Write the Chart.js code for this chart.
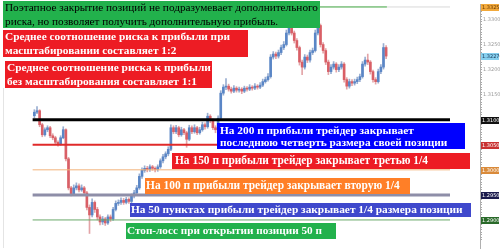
<!DOCTYPE html>
<html>
<head>
<meta charset="utf-8">
<script src="https://cdn.jsdelivr.net/npm/chart.js@4/dist/chart.umd.min.js"></script>
<style>
html,body{margin:0;padding:0;background:#fff;}
#c{display:block;}
</style>
</head>
<body>
<canvas id="c" width="500" height="252"></canvas>
<script>
// ---- data ----
const opens = [1.3108,1.3115,1.3118,1.3090,1.3070,1.3080,1.3084,1.3068,1.3064,1.3055,
1.3051,1.3064,1.3080,1.3022,1.2964,1.2952,1.2964,1.2968,1.2960,1.2964,
1.2954,1.2925,1.2910,1.2935,1.2921,1.2906,1.2896,1.2902,1.2894,1.2906,
1.2902,1.2921,1.2933,1.2935,1.2939,1.2935,1.2941,1.2937,1.2948,1.2954,
1.2964,1.2987,1.2999,1.3003,1.3001,1.3006,1.3003,1.3001,1.3006,1.3018,
1.3026,1.3032,1.3041,1.3084,1.3076,1.3084,1.3070,1.3080,1.3074,1.3061,
1.3084,1.3076,1.3084,1.3074,1.3080,1.3090,1.3086,1.3107,1.3099,1.3084,
1.3080,1.3103,1.3153,1.3165,1.3167,1.3161,1.3157,1.3163,1.3159,1.3161,
1.3157,1.3163,1.3161,1.3165,1.3163,1.3167,1.3165,1.3169,1.3176,1.3180,
1.3186,1.3225,1.3231,1.3227,1.3234,1.3244,1.3250,1.3273,1.3283,1.3273,
1.3258,1.3244,1.3215,1.3205,1.3225,1.3219,1.3234,1.3238,1.3273,1.3288,
1.3250,1.3238,1.3215,1.3196,1.3205,1.3211,1.3200,1.3205,1.3211,1.3180,
1.3167,1.3176,1.3173,1.3176,1.3180,1.3186,1.3211,1.3219,1.3215,1.3196,
1.3180,1.3176,1.3196,1.3205,1.3244];
const closes = [1.3115,1.3118,1.3090,1.3070,1.3080,1.3084,1.3068,1.3064,1.3055,1.3051,
1.3064,1.3080,1.3022,1.2964,1.2952,1.2964,1.2968,1.2960,1.2964,1.2954,
1.2925,1.2910,1.2935,1.2921,1.2906,1.2896,1.2902,1.2894,1.2906,1.2902,
1.2921,1.2933,1.2935,1.2939,1.2935,1.2941,1.2937,1.2948,1.2954,1.2964,
1.2987,1.2999,1.3003,1.3001,1.3006,1.3003,1.3001,1.3006,1.3018,1.3026,
1.3032,1.3041,1.3084,1.3076,1.3084,1.3070,1.3080,1.3074,1.3061,1.3084,
1.3076,1.3084,1.3074,1.3080,1.3090,1.3086,1.3107,1.3099,1.3084,1.3080,
1.3103,1.3153,1.3165,1.3167,1.3161,1.3157,1.3163,1.3159,1.3161,1.3157,
1.3163,1.3161,1.3165,1.3163,1.3167,1.3165,1.3169,1.3176,1.3180,1.3186,
1.3225,1.3231,1.3227,1.3234,1.3244,1.3250,1.3273,1.3283,1.3273,1.3258,
1.3244,1.3215,1.3205,1.3225,1.3219,1.3234,1.3238,1.3273,1.3288,1.3250,
1.3238,1.3215,1.3196,1.3205,1.3211,1.3200,1.3205,1.3211,1.3180,1.3167,
1.3176,1.3173,1.3176,1.3180,1.3186,1.3211,1.3219,1.3215,1.3196,1.3180,
1.3176,1.3196,1.3205,1.3244,1.3227];
const highs = [1.3120,1.3126,1.3120,1.3093,1.3084,1.3088,1.3087,1.3072,1.3067,1.3058,
1.3068,1.3086,1.3082,1.3025,1.2967,1.2970,1.2974,1.2972,1.2970,1.2967,
1.2957,1.2930,1.2942,1.2938,1.2925,1.2910,1.2907,1.2905,1.2910,1.2910,
1.2925,1.2938,1.2940,1.2944,1.2943,1.2945,1.2944,1.2952,1.2959,1.2969,
1.2992,1.3004,1.3008,1.3007,1.3010,1.3009,1.3006,1.3010,1.3022,1.3031,
1.3036,1.3046,1.3090,1.3088,1.3089,1.3087,1.3085,1.3083,1.3077,1.3089,
1.3088,1.3090,1.3087,1.3085,1.3095,1.3094,1.3113,1.3110,1.3102,1.3088,
1.3108,1.3158,1.3170,1.3182,1.3171,1.3165,1.3168,1.3166,1.3165,1.3164,
1.3167,1.3166,1.3170,1.3168,1.3172,1.3170,1.3174,1.3181,1.3185,1.3192,
1.3230,1.3236,1.3235,1.3239,1.3249,1.3256,1.3279,1.3306,1.3290,1.3277,
1.3262,1.3247,1.3219,1.3230,1.3229,1.3239,1.3243,1.3279,1.3296,1.3291,
1.3254,1.3242,1.3219,1.3210,1.3216,1.3214,1.3210,1.3216,1.3214,1.3184,
1.3181,1.3180,1.3181,1.3185,1.3191,1.3216,1.3225,1.3231,1.3218,1.3199,
1.3184,1.3201,1.3210,1.3252,1.3248];
const lows = [1.3104,1.3112,1.3086,1.3066,1.3067,1.3076,1.3064,1.3060,1.3051,1.3047,
1.3049,1.3062,1.3018,1.2960,1.2948,1.2950,1.2960,1.2956,1.2957,1.2950,
1.2920,1.2873,1.2906,1.2915,1.2900,1.2890,1.2891,1.2889,1.2891,1.2897,
1.2899,1.2918,1.2929,1.2931,1.2931,1.2932,1.2933,1.2934,1.2944,1.2950,
1.2961,1.2983,1.2995,1.2996,1.2997,1.2999,1.2996,1.2997,1.3003,1.3014,
1.3022,1.3028,1.3038,1.3072,1.3072,1.3066,1.3067,1.3070,1.3045,1.3058,
1.3072,1.3073,1.3070,1.3071,1.3077,1.3081,1.3083,1.3094,1.3080,1.3074,
1.3077,1.3100,1.3149,1.3160,1.3157,1.3153,1.3154,1.3155,1.3155,1.3152,
1.3154,1.3157,1.3158,1.3159,1.3160,1.3161,1.3162,1.3166,1.3173,1.3177,
1.3183,1.3221,1.3222,1.3223,1.3230,1.3240,1.3247,1.3269,1.3269,1.3253,
1.3239,1.3209,1.3190,1.3201,1.3214,1.3215,1.3230,1.3235,1.3269,1.3245,
1.3233,1.3210,1.3190,1.3192,1.3201,1.3195,1.3196,1.3201,1.3175,1.3161,
1.3163,1.3168,1.3169,1.3172,1.3176,1.3183,1.3207,1.3210,1.3191,1.3175,
1.3171,1.3173,1.3192,1.3201,1.3222];

// horizontal levels: entry/TP/SL lines
const levelValues = [1.3100, 1.3050, 1.3000, 1.2950, 1.2900];
const levelLabels = ['1.3100', '1.3050', '1.3000', '1.2950', '1.2900'];
const topLevel = 1.3325;
const topLabel = '1.3325';
const currentPrice = 1.3227;
const currentLabel = '1.32270';
const axisTicks = [1.3150, 1.3200, 1.3250, 1.3300];

// annotation texts
const noteTop = ['Поэтапное закрытие позиций не подразумевает дополнительного', 'риска, но позволяет получить дополнительную прибыль.'];
const noteScale = ['Среднее соотношение риска к прибыли при', 'масштабировании составляет 1:2'];
const noteNoScale = ['Среднее соотношение риска к прибыли', 'без масштабирования составляет 1:1'];
const note200 = ['На 200 п прибыли трейдер закрывает', 'последнюю четверть размера своей позиции'];
const note150 = ['На 150 п прибыли трейдер закрывает третью 1/4'];
const note100 = ['На 100 п прибыли трейдер закрывает вторую 1/4'];
const note50 = ['На 50 пунктах прибыли трейдер закрывает 1/4 размера позиции'];
const noteSL = ['Стоп-лосс при открытии позиции 50 п'];

// ---- styles / layout ----
const UP = '#5a86c6', DOWN = '#d95f66';
const X_MIN = -5/3, X_MAX = 160 - 5/3;
const LINE_START = -2/3;
const LAST = closes.length - 1;
const Y_MAX = 1.33309, Y_MIN = 1.33309 - 252 * 0.0001932;

const levelStyles = [
  {color:'#000000', width:3, box:'#111111', txt:'#ffffff'},
  {color:'#e02a2a', width:2, box:'#c83232', txt:'#ffffff'},
  {color:'#f2b27a', width:1, box:'#d98a3a', txt:'#ffffff'},
  {color:'#8e8ea8', width:3, box:'#1b1b4d', txt:'#ffffff'},
  {color:'#6aa86a', width:1, box:'#2a6a2a', txt:'#ffffff'}
];

const upDown = closes.map((c, i) => c >= opens[i]);

const datasets = [];
levelValues.forEach((v, k) => {
  datasets.push({
    type:'line', order:0,
    data:[{x:LINE_START, y:v}, {x:X_MAX, y:v}],
    borderColor:levelStyles[k].color, borderWidth:levelStyles[k].width,
    pointRadius:0, fill:false
  });
});
datasets.push({type:'line', order:0, data:[{x:LINE_START, y:topLevel}, {x:LAST + 0.3, y:topLevel}],
  borderColor:'#3aa03a', borderWidth:1, pointRadius:0});
datasets.push({type:'line', order:0, data:[{x:LAST + 0.3, y:topLevel}, {x:X_MAX, y:topLevel}],
  borderColor:'#d8d8d8', borderWidth:1, pointRadius:0});
datasets.push({
  type:'bar', order:1, grouped:false,
  data: closes.map((c, i) => ({x:i, y:[opens[i], c]})),
  backgroundColor: upDown.map(u => u ? UP : DOWN),
  barThickness:2, minBarLength:1, borderWidth:0
});
datasets.push({
  type:'bar', order:2, grouped:false,
  data: highs.map((h, i) => ({x:i, y:[lows[i], h]})),
  backgroundColor: upDown.map(u => u ? 'rgba(110,140,190,0.7)' : 'rgba(215,125,130,0.7)'),
  barThickness:1, borderWidth:0
});

const notes = [
  {x:3, y:1, w:317, h:27, bg:'#22b14c', color:'#000', bold:false, tx:5, ys:[8.5, 22], fit:313, lines:noteTop},
  {x:3, y:30, w:245, h:27, bg:'#ed1c24', color:'#fff', bold:true, tx:5, ys:[37.5, 51.5], fit:225, lines:noteScale},
  {x:5, y:61, w:207, h:27, bg:'#ed1c24', color:'#fff', bold:true, tx:7, ys:[68.5, 82.5], fit:204, lines:noteNoScale},
  {x:217, y:123, w:248, h:26, bg:'#0000ff', color:'#fff', bold:true, tx:220, ys:[131, 143.5], fit:194, lines:note200},
  {x:172, y:153, w:298, h:16, bg:'#ed1c24', color:'#fff', bold:true, tx:175, ys:[161], fit:253, lines:note150},
  {x:145, y:178, w:265, h:16, bg:'#ff7f27', color:'#fff', bold:true, tx:146, ys:[186], fit:254, lines:note100},
  {x:130, y:203, w:341, h:14, bg:'#3f48cc', color:'#fff', bold:true, tx:131, ys:[210.5], fit:332, lines:note50},
  {x:126, y:223, w:210, h:16, bg:'#22b14c', color:'#fff', bold:true, tx:127, ys:[231], fit:195, lines:noteSL}
];

const FONT = '"Liberation Serif", "Times New Roman", serif';

const overlay = {
  id:'overlay',
  afterDraw(chart) {
    const ctx = chart.ctx;
    const ys = chart.scales.y;
    ctx.save();
    // faint left border
    ctx.fillStyle = '#e4e4e4';
    ctx.fillRect(3, 88, 1, 160);
    // axis price boxes
    const boxes = levelValues.map((v, k) => ({v, label:levelLabels[k], bg:levelStyles[k].box, txt:levelStyles[k].txt}));
    boxes.push({v:currentPrice, label:currentLabel, bg:'#86cfee', txt:'#1a3a5a'});
    boxes.push({v:topLevel, label:topLabel, bg:'#f2a93b', txt:'#6a3a00'});
    ctx.font = '5px "DejaVu Sans"';
    ctx.textBaseline = 'middle';
    boxes.forEach(b => {
      const py = Math.round(ys.getPixelForValue(b.v));
      ctx.fillStyle = b.bg;
      ctx.fillRect(481, py - 3, 18, 7);
      ctx.fillStyle = b.txt;
      ctx.textAlign = 'left';
      ctx.fillText(b.label, 482, py + 0.5);
    });
    // notes
    notes.forEach(n => {
      ctx.fillStyle = n.bg;
      ctx.fillRect(n.x, n.y, n.w, n.h);
      const wgt = n.bold ? 'bold ' : '';
      ctx.font = wgt + '20px ' + FONT;
      const m = ctx.measureText(n.lines[0]).width;
      const size = 20 * n.fit / m;
      ctx.font = wgt + size.toFixed(2) + 'px ' + FONT;
      ctx.fillStyle = n.color;
      ctx.textAlign = 'left';
      ctx.textBaseline = 'middle';
      n.lines.forEach((t, j) => ctx.fillText(t, n.tx, n.ys[j]));
    });
    ctx.restore();
  }
};

new Chart(document.getElementById('c'), {
  type:'bar',
  data:{datasets},
  options:{
    responsive:false, animation:false, devicePixelRatio:1,
    layout:{padding:0},
    plugins:{legend:{display:false}, tooltip:{enabled:false}},
    scales:{
      x:{type:'linear', min:X_MIN, max:X_MAX, display:false},
      y:{
        position:'right', min:Y_MIN, max:Y_MAX,
        afterFit(s){ s.width = 20; },
        afterBuildTicks(s){
          const t = [];
          for (let k = 12860; k <= 13330; k += 5) t.push({value:k / 10000});
          s.ticks = t;
        },
        ticks:{
          autoSkip:false, font:{size:5, family:'DejaVu Sans'}, color:'#9a9a9a', padding:1,
          callback:(v) => axisTicks.some(a => Math.abs(a - v) < 1e-6) ? v.toFixed(4) : ''
        },
        grid:{drawOnChartArea:false, drawTicks:true, tickLength:2, color:'#a8a8a8'},
        border:{display:true, color:'#b0b0b0', dash:[1,1]}
      }
    }
  },
  plugins:[overlay]
});
</script>
</body>
</html>
